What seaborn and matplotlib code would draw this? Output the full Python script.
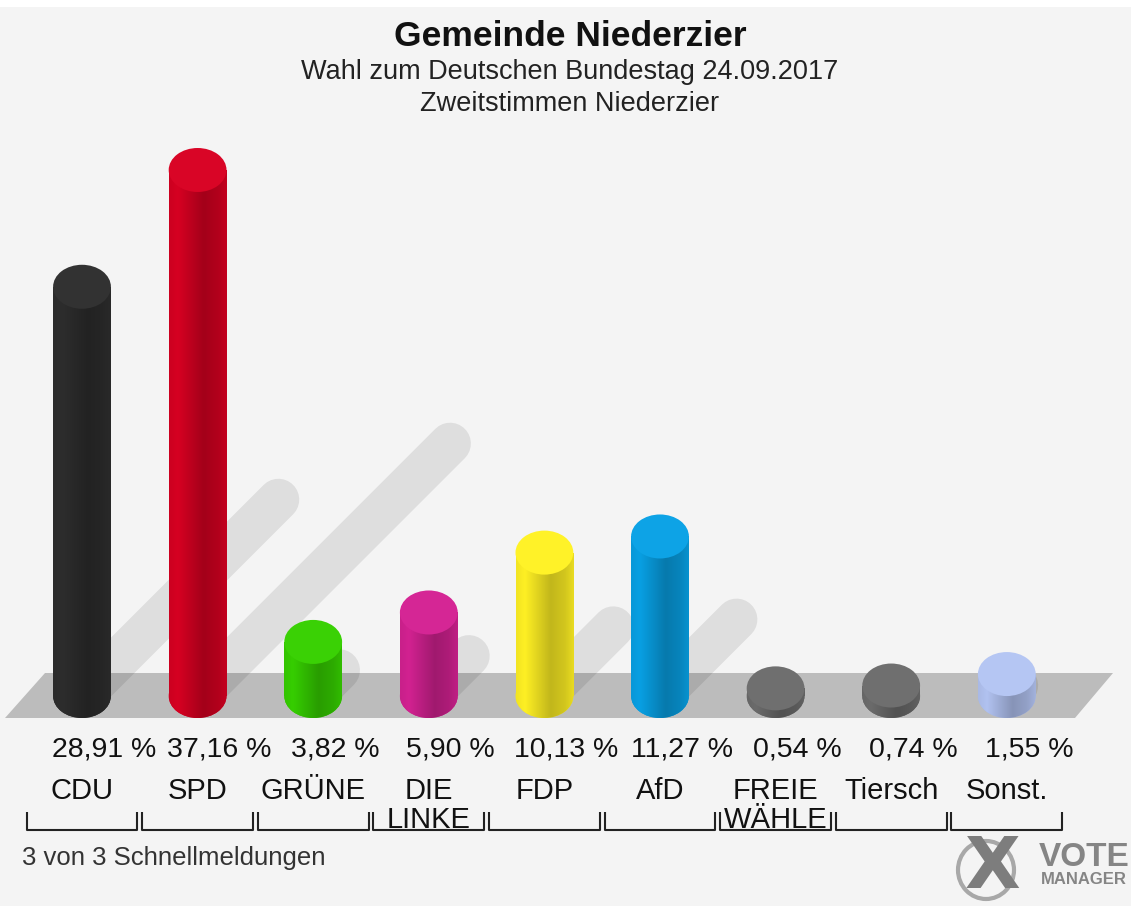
import numpy as np
import matplotlib
matplotlib.use("Agg")
import matplotlib.pyplot as plt
import matplotlib.colors as mcolors
from matplotlib.patches import Ellipse, Polygon, Rectangle
import seaborn as sns

# Daten
parties = ["CDU", "SPD", "GRÜNE", "DIE\nLINKE", "FDP", "AfD", "FREIE\nWÄHLE", "Tiersch", "Sonst."]
values = [28.91, 37.16, 3.82, 5.90, 10.13, 11.27, 0.54, 0.74, 1.55]
value_labels = ["28,91 %", "37,16 %", "3,82 %", "5,90 %", "10,13 %", "11,27 %", "0,54 %", "0,74 %", "1,55 %"]
colors = ["#2b2b2b", "#cc0020", "#33c400", "#c8208a", "#f2e422", "#0898d8", "#666666", "#666666", "#a9b9e5"]

title = "Gemeinde Niederzier"
subtitle = ["Wahl zum Deutschen Bundestag 24.09.2017", "Zweitstimmen Niederzier"]
footer = "3 von 3 Schnellmeldungen"

W, H = 1131, 906
BG = "#f4f4f4"

sns.set_theme(style="white")
plt.rcParams["font.family"] = ["Liberation Sans", "DejaVu Sans"]

fig = plt.figure(figsize=(W / 100, H / 100), dpi=100, facecolor=BG)
ax = fig.add_axes([0, 0, 1, 1])
ax.set_facecolor(BG)

# Pixel-Layout des Originals
x0_px, step_px = 82, 115.6
base_px, unit_px = 696, 14.155
cap_h = 44 / unit_px


def fy(py):
    """Pixel von oben -> Achsenanteil"""
    return 1 - py / H


def shade(color, n=64):
    t = np.linspace(0, 1, n)
    f = np.interp(t, [0, 0.15, 0.6, 0.85, 1], [1.0, 1.05, 0.8, 0.87, 0.96])
    rgb = np.array(mcolors.to_rgb(color))
    return np.clip(rgb[None, :] * f[:, None], 0, 1)[None, :, :]


def lighten(color):
    rgb = np.array(mcolors.to_rgb(color))
    return tuple(np.clip(rgb * 1.04 + 0.02, 0, 1))


# Boden
ax.add_patch(Polygon([(5 / W, fy(718)), (45 / W, fy(673)), (1113 / W, fy(673)), (1075 / W, fy(718))],
                     closed=True, transform=ax.transAxes, facecolor="#bcbcbc", edgecolor="none", zorder=1))

# Schatten
sh = 0.48
for i, v in enumerate(values):
    dx = sh * v * unit_px / step_px
    ax.plot([i, i + dx], [0, sh * v], color="black", alpha=0.085, lw=30,
            solid_capstyle="round", zorder=1.5)

sns.barplot(x=parties, y=values, hue=parties, palette=colors, legend=False,
            width=0.5, saturation=1, linewidth=0, ax=ax, zorder=3)

bars = sorted([p for p in ax.patches if isinstance(p, Rectangle)], key=lambda p: p.get_x())
for bar, col in zip(bars, colors):
    x, w, h = bar.get_x(), bar.get_width(), bar.get_height()
    cx = x + w / 2
    img = shade(col)
    bottom = Ellipse((cx, 0), w, cap_h, facecolor=col, edgecolor="none", zorder=2.9)
    ax.add_patch(bottom)
    for clip, z in [(bar, 3.05), (bottom, 2.95)]:
        im = ax.imshow(img, extent=[x, x + w, -cap_h, h + cap_h], aspect="auto",
                       zorder=z, interpolation="bicubic")
        im.set_clip_path(clip)
    ax.add_patch(Ellipse((cx, h), w, cap_h, facecolor=lighten(col), edgecolor="none", zorder=3.2))

ax.set_xlim(-x0_px / step_px, (W - x0_px) / step_px)
ax.set_ylim(-(H - base_px) / unit_px, base_px / unit_px)
ax.axis("off")

# Beschriftungen
tr = ax.get_xaxis_transform()
for i, (name, lab) in enumerate(zip(parties, value_labels)):
    ax.text(i + 0.19, fy(750), lab, transform=tr, ha="center", va="center", fontsize=20.5, color="#111111")
    lines = name.split("\n")
    ax.text(i, fy(791), lines[0], transform=tr, ha="center", va="center", fontsize=21, color="#111111")
    if len(lines) > 1:
        ax.text(i, fy(820), lines[1], transform=tr, ha="center", va="center", fontsize=21, color="#111111")
    # Klammer
    ax.plot([i - 0.48, i - 0.48, i + 0.48, i + 0.48], [fy(812), fy(830), fy(830), fy(812)],
            transform=tr, color="#222222", lw=1.5, zorder=4, solid_capstyle="butt")

fig.text(0.504, fy(37), title, ha="center", va="center", fontsize=25.5, fontweight="bold", color="#111111")
fig.text(0.504, fy(72), subtitle[0], ha="center", va="center", fontsize=19.5, color="#222222")
fig.text(0.504, fy(104), subtitle[1], ha="center", va="center", fontsize=19.5, color="#222222")
fig.text(22 / W, fy(858), footer, ha="left", va="center", fontsize=18.5, color="#333333")

# Logo
fig.patches.append(Rectangle((0, fy(7)), 1, 7 / H, transform=fig.transFigure,
                             facecolor="white", edgecolor="none", figure=fig))
fig.patches.append(Ellipse((986 / W, fy(870)), 56 / W, 58 / H, transform=fig.transFigure,
                           facecolor="none", edgecolor="#a8a8a8", lw=3, figure=fig))
fig.text(992 / W, fy(868), "X", ha="center", va="center", fontsize=52, fontweight="bold",
         color="#7d7d7d", family="DejaVu Sans")
fig.text(1084 / W, fy(857), "VOTE", ha="center", va="center", fontsize=24, fontweight="bold", color="#858585")
fig.text(1084 / W, fy(880), "MANAGER", ha="center", va="center", fontsize=12, fontweight="bold", color="#858585")

fig.savefig("out.png", dpi=100, facecolor=fig.get_facecolor())
